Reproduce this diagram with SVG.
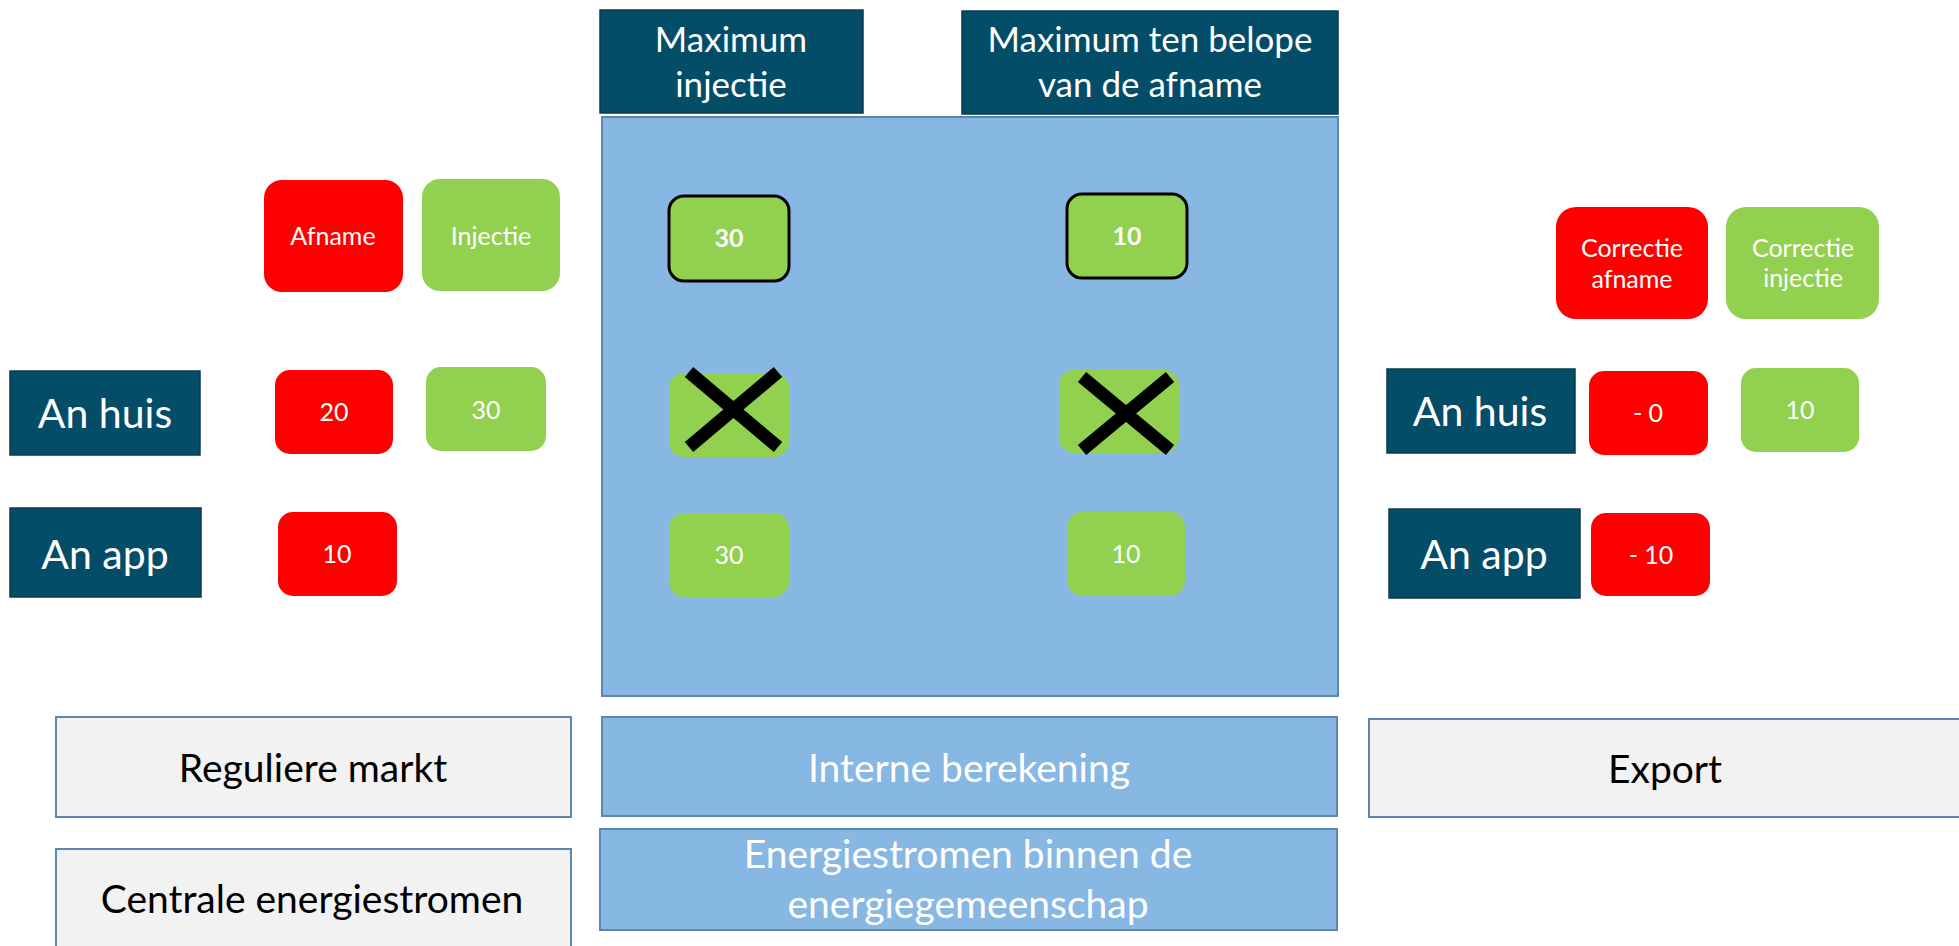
<svg xmlns="http://www.w3.org/2000/svg" width="1959" height="946" viewBox="0 0 1959 946">
<style>
.hdr{fill:#034D69;stroke:#0B3A50;stroke-width:1.5}
.panel{fill:#87B8E4;stroke:#5E86AD;stroke-width:2}
.grey{fill:#F2F2F2;stroke:#5E86AD;stroke-width:2}
.red{fill:#FF0000}
.grn{fill:#92D050}
.grnb{fill:#92D050;stroke:#000;stroke-width:3}
.t{font-family:Lato,"Liberation Sans",sans-serif;text-anchor:middle}
.w{fill:#FFFFFF}
.k{fill:#000000}
.s24{font-size:25px}
.s34{font-size:35px}
.s40{font-size:39px}
.s44{font-size:41px}
.b{font-weight:bold}
.x{stroke:#000;stroke-width:13;stroke-linecap:butt}
</style>
<rect width="1959" height="946" fill="#FFFFFF"/>

<g id="panel-interne"><rect class="panel" x="602" y="117" width="736" height="579"/></g>

<g id="hdr-max-injectie">
<rect class="hdr" x="600" y="10" width="263" height="103"/>
<text class="t w s34" x="731" y="52">Maximum</text>
<text class="t w s34" x="731" y="97">injectie</text>
</g>
<g id="hdr-max-afname">
<rect class="hdr" x="962" y="11" width="376" height="103"/>
<text class="t w s34" x="1150" y="52">Maximum ten belope</text>
<text class="t w s34" x="1150" y="97">van de afname</text>
</g>

<g id="lbl-afname"><rect class="red" x="264" y="180" width="139" height="112" rx="18"/><text class="t w s24" x="333" y="245">Afname</text></g>
<g id="lbl-injectie"><rect class="grn" x="422" y="179" width="138" height="112" rx="18"/><text class="t w s24" x="491" y="245">Injectie</text></g>

<g id="left-anhuis"><rect class="hdr" x="10" y="371" width="190" height="84"/><text class="t w s44" x="105" y="428">An huis</text></g>
<g id="left-anhuis-afname"><rect class="red" x="275" y="370" width="118" height="84" rx="15"/><text class="t w s24" x="334" y="421">20</text></g>
<g id="left-anhuis-injectie"><rect class="grn" x="426" y="367" width="120" height="84" rx="15"/><text class="t w s24" x="486" y="419">30</text></g>
<g id="left-anapp"><rect class="hdr" x="10" y="508" width="191" height="89"/><text class="t w s44" x="105" y="569">An app</text></g>
<g id="left-anapp-afname"><rect class="red" x="278" y="512" width="119" height="84" rx="15"/><text class="t w s24" x="337" y="563">10</text></g>

<g id="max-inj-value"><rect class="grnb" x="669" y="196" width="120" height="85" rx="15"/><text class="t w s24 b" x="729" y="247">30</text></g>
<g id="max-afn-value"><rect class="grnb" x="1067" y="194" width="120" height="84" rx="15"/><text class="t w s24 b" x="1127" y="245">10</text></g>

<g id="mid-anhuis-inj"><rect class="grn" x="669" y="373" width="120" height="84" rx="15"/>
<line class="x" x1="689" y1="372" x2="778" y2="447"/><line class="x" x1="689" y1="447" x2="778" y2="372"/></g>
<g id="mid-anhuis-afn"><rect class="grn" x="1059" y="370" width="120" height="83" rx="15"/>
<line class="x" x1="1082" y1="377" x2="1170" y2="450"/><line class="x" x1="1082" y1="450" x2="1170" y2="377"/></g>

<g id="mid-anapp-inj"><rect class="grn" x="669" y="513" width="120" height="84" rx="15"/><text class="t w s24" x="729" y="564">30</text></g>
<g id="mid-anapp-afn"><rect class="grn" x="1067" y="512" width="118" height="84" rx="15"/><text class="t w s24" x="1126" y="563">10</text></g>

<g id="lbl-corr-afname"><rect class="red" x="1556" y="207" width="152" height="112" rx="20"/><text class="t w s24" x="1632" y="257">Correctie</text><text class="t w s24" x="1632" y="288">afname</text></g>
<g id="lbl-corr-injectie"><rect class="grn" x="1726" y="207" width="153" height="112" rx="20"/><text class="t w s24" x="1803" y="257">Correctie</text><text class="t w s24" x="1803" y="287">injectie</text></g>

<g id="right-anhuis"><rect class="hdr" x="1387" y="369" width="188" height="84"/><text class="t w s44" x="1480" y="426">An huis</text></g>
<g id="right-anhuis-afname"><rect class="red" x="1589" y="371" width="119" height="84" rx="15"/><text class="t w s24" x="1648" y="422">- 0</text></g>
<g id="right-anhuis-injectie"><rect class="grn" x="1741" y="368" width="118" height="84" rx="15"/><text class="t w s24" x="1800" y="419">10</text></g>
<g id="right-anapp"><rect class="hdr" x="1389" y="509" width="191" height="89"/><text class="t w s44" x="1484" y="569">An app</text></g>
<g id="right-anapp-afname"><rect class="red" x="1591" y="513" width="119" height="83" rx="15"/><text class="t w s24" x="1651" y="564">- 10</text></g>

<g id="col-reguliere"><rect class="grey" x="56" y="717" width="515" height="100"/><text class="t k s40" x="313" y="782">Reguliere markt</text></g>
<g id="col-interne"><rect class="panel" x="602" y="717" width="735" height="99"/><text class="t w s40" x="969" y="782">Interne berekening</text></g>
<g id="col-export"><rect class="grey" x="1369" y="719" width="600" height="98"/><text class="t k s40" x="1665" y="783">Export</text></g>
<g id="row-centrale"><rect class="grey" x="56" y="849" width="515" height="120"/><text class="t k s40" x="312" y="913">Centrale energiestromen</text></g>
<g id="row-energie"><rect class="panel" x="600" y="829" width="737" height="101"/><text class="t w s40" x="968" y="868">Energiestromen binnen de</text><text class="t w s40" x="968" y="918">energiegemeenschap</text></g>
<g id="connectors"></g>
</svg>
